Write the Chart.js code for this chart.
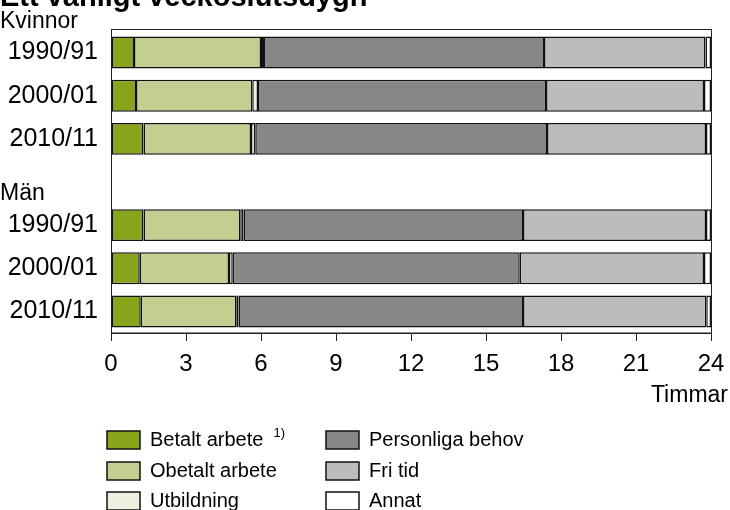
<!DOCTYPE html>
<html>
<head>
<meta charset="utf-8">
<script src="https://cdn.jsdelivr.net/npm/chart.js@4/dist/chart.umd.min.js"></script>
<style>
  body { margin: 0; background: #fff; }
  canvas { display: block; }
</style>
</head>
<body>
<canvas id="chart" width="730" height="510"></canvas>
<script>
// rows: Kvinnor 3 years, empty gap, Män 3 years
const periods = ['1990/91', '2000/01', '2010/11', '', '1990/91', '2000/01', '2010/11'];
const groupLabels = ['Kvinnor', 'Män'];
const xTicks = [0, 3, 6, 9, 12, 15, 18, 21, 24];

// hours per activity
const betaltArbete    = [0.92, 1.00, 1.30, null, 1.30, 1.15, 1.19];
const obetaltArbete   = [5.08, 4.65, 4.30, null, 3.87, 3.57, 3.82];
const utbildning      = [0.12, 0.23, 0.17, null, 0.13, 0.15, 0.09];
const personligaBehov = [11.20, 11.52, 11.67, null, 11.18, 11.48, 11.38];
const friTid          = [6.46, 6.32, 6.36, null, 7.32, 7.37, 7.33];
const annat           = [0.22, 0.28, 0.20, null, 0.20, 0.28, 0.19];

const seriesNames = ['Betalt arbete', 'Obetalt arbete', 'Utbildning', 'Personliga behov', 'Fri tid', 'Annat'];
const seriesColors = ['#87a41b', '#c3cf91', '#eef0df', '#878787', '#bcbcbc', '#ffffff'];
const seriesData = [betaltArbete, obetaltArbete, utbildning, personligaBehov, friTid, annat];

const FONT = 'Liberation Sans, Arial, sans-serif';

const datasets = seriesNames.map((name, i) => ({
  label: name,
  data: seriesData[i],
  backgroundColor: seriesColors[i],
  borderColor: '#111',
  borderWidth: 1.5,
  borderSkipped: false,
  barPercentage: 0.74,
  categoryPercentage: 1
}));

// extra drawing: title, group labels, box, "Timmar", legend
const extras = {
  id: 'extras',
  afterDraw(chart) {
    const ctx = chart.ctx;
    const area = chart.chartArea;
    const yScale = chart.scales.y;
    ctx.save();

    // frame round the plot
    ctx.strokeStyle = '#222';
    ctx.lineWidth = 1;
    ctx.strokeRect(area.left + 0.5, area.top - 1.5, area.right - area.left, area.bottom - area.top + 1.5);

    // title (cut at top edge as in the source)
    ctx.fillStyle = '#000';
    ctx.font = 'bold 29px ' + FONT;
    ctx.textAlign = 'left';
    ctx.textBaseline = 'alphabetic';
    ctx.fillText('Ett vanligt veckoslutsdygn', 0, 6);

    // group labels
    ctx.font = '23px ' + FONT;
    ctx.textBaseline = 'middle';
    const slot = yScale.getPixelForValue(1) - yScale.getPixelForValue(0);
    ctx.fillText(groupLabels[0], 0, yScale.getPixelForValue(0) - slot * 0.72);
    ctx.fillText(groupLabels[1], 0, yScale.getPixelForValue(3) + slot * 0.26);

    // axis unit
    ctx.textAlign = 'right';
    ctx.fillText('Timmar', 728, 396);

    // legend, two columns
    const cols = [107, 326];
    const rows = [440, 471, 501];
    ctx.font = '20px ' + FONT;
    ctx.textAlign = 'left';
    seriesNames.forEach((name, i) => {
      const bx = cols[Math.floor(i / 3)];
      const by = rows[i % 3];
      ctx.fillStyle = seriesColors[i];
      ctx.fillRect(bx, by - 9, 33, 18);
      ctx.strokeStyle = '#111';
      ctx.lineWidth = 1.5;
      ctx.strokeRect(bx, by - 9, 33, 18);
      ctx.fillStyle = '#000';
      ctx.fillText(name, bx + 43, by);
      if (i === 0) {
        const w = ctx.measureText(name).width;
        ctx.font = '13px ' + FONT;
        ctx.fillText('1)', bx + 43 + w + 10, by - 7);
        ctx.font = '20px ' + FONT;
      }
    });

    ctx.restore();
  }
};

new Chart(document.getElementById('chart'), {
  type: 'bar',
  data: { labels: periods, datasets },
  options: {
    indexAxis: 'y',
    responsive: false,
    animation: false,
    layout: { padding: { left: 0, top: 31, right: 19, bottom: 117 } },
    plugins: {
      legend: { display: false },
      tooltip: { enabled: false }
    },
    scales: {
      x: {
        stacked: true,
        min: 0,
        max: 24,
        afterBuildTicks: s => { s.ticks = xTicks.map(v => ({ value: v })); },
        afterFit: s => { s.height = 60; },
        grid: { drawOnChartArea: false, drawTicks: true, tickLength: 8, tickColor: '#222' },
        border: { display: true, color: '#222', width: 1 },
        ticks: { color: '#000', font: { family: FONT, size: 24, lineHeight: 1.55 }, padding: 5, maxRotation: 0 }
      },
      y: {
        stacked: true,
        afterFit: s => { s.width = 111; },
        grid: { display: false, drawTicks: false },
        border: { display: true, color: '#222', width: 1 },
        ticks: { color: '#000', font: { family: FONT, size: 25 }, padding: 13, autoSkip: false }
      }
    }
  },
  plugins: [extras]
});
</script>
</body>
</html>
